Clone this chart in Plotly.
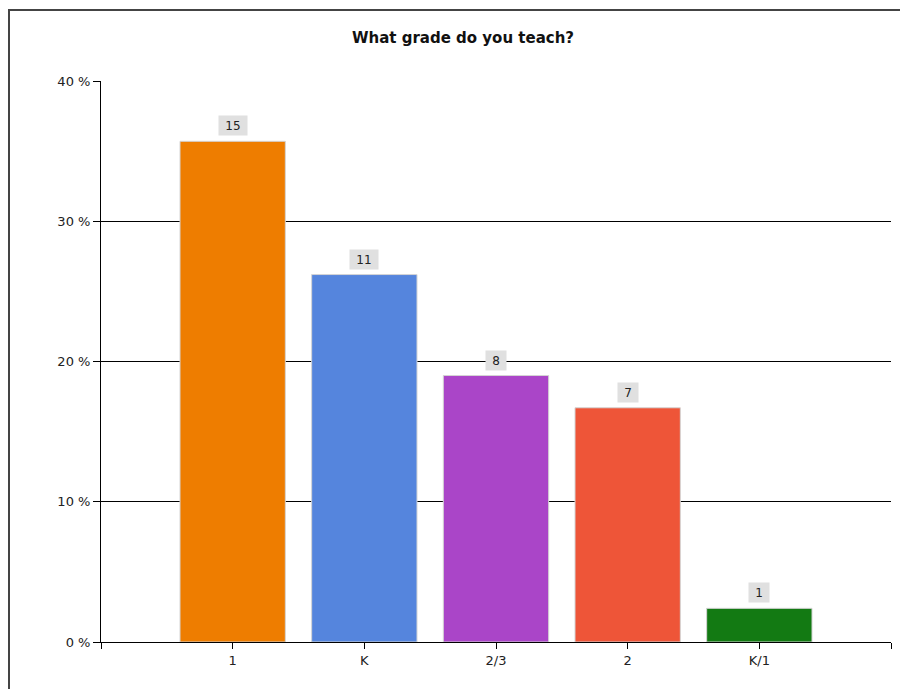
import plotly.graph_objects as go

categories = ["1", "K", "2/3", "2", "K/1"]
counts = [15, 11, 8, 7, 1]
percents = [35.7, 26.2, 19.0, 16.7, 2.4]
colors = ["#EE7D00", "#5585DD", "#AA45C8", "#EE5538", "#137A13"]
y_ticks = [0, 10, 20, 30, 40]
y_tick_labels = ["0 %", "10 %", "20 %", "30 %", "40 %"]

positions = list(range(1, len(categories) + 1))
FONT = "DejaVu Sans, Verdana, sans-serif"

fig = go.Figure()
fig.add_trace(go.Bar(
    x=positions, y=percents, width=0.8,
    marker=dict(color=colors, line=dict(color="#D4D4D4", width=1)),
    hoverinfo="skip", showlegend=False,
))

for p, v, c in zip(positions, percents, counts):
    fig.add_annotation(
        x=p, y=v, text=str(c), showarrow=False, yanchor="bottom", yshift=5,
        font=dict(family=FONT, size=12, color="#222"),
        bgcolor="#E0E0E0", borderpad=3, width=8 * len(str(c)) + 6, height=13,
    )

fig.update_layout(
    width=908, height=689,
    margin=dict(l=93, r=25, t=73, b=55),
    paper_bgcolor="white", plot_bgcolor="white",
    title=dict(text="<b>What grade do you teach?</b>", x=455 / 908, xanchor="center",
               y=1 - 30 / 689, yanchor="middle", xref="container", yref="container",
               font=dict(family=FONT, size=15, color="#111")),
    font=dict(family=FONT, size=13, color="#222"),
    xaxis=dict(range=[0, len(categories) + 1], tickvals=[0] + positions + [len(categories) + 1],
               ticktext=[""] + categories + [""], showgrid=False, zeroline=False,
               showline=True, linecolor="black", linewidth=1,
               ticks="outside", ticklen=6, tickcolor="black", fixedrange=True),
    yaxis=dict(range=[0, 40], tickvals=y_ticks, ticktext=y_tick_labels,
               showgrid=True, gridcolor="black", gridwidth=1, zeroline=False,
               showline=True, linecolor="black", linewidth=1,
               ticks="outside", ticklen=7, tickcolor="black", fixedrange=True),
    shapes=[dict(type="rect", xref="paper", yref="paper",
                 x0=(1 - 93) / 790, x1=1.2, y0=-0.3, y1=1 + (73 - 2) / 561,
                 line=dict(color="#444", width=2), fillcolor="rgba(0,0,0,0)", layer="below")],
)

fig.write_html("out.html")
